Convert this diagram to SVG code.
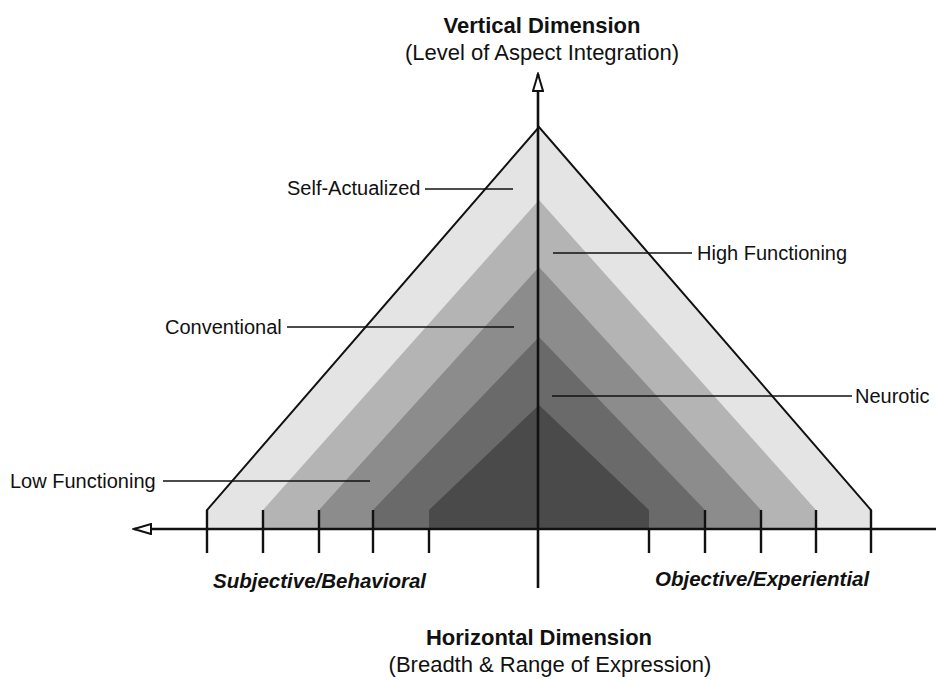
<svg xmlns="http://www.w3.org/2000/svg" width="936" height="681" viewBox="0 0 936 681">
<style>
text{font-family:"Liberation Sans",Arial,sans-serif;fill:#111}
.t{font-size:22px}
.tb{font-size:22px;font-weight:bold}
.lab{font-size:20px}
.bi{font-size:20.5px;font-weight:bold;font-style:italic}
.lead{stroke:#111;stroke-width:1.6;fill:none}
.tick{stroke:#111;stroke-width:2.4;fill:none}
.axis{stroke:#111;stroke-width:2.6;fill:none}
</style>
<defs>
<marker id="arr" viewBox="0 0 20 12" refX="18" refY="6" markerWidth="20" markerHeight="12" markerUnits="userSpaceOnUse" orient="auto">
<path d="M1,1 L18,6 L1,11 Z" fill="#fff" stroke="#111" stroke-width="2"/>
</marker>
</defs>
<rect width="936" height="681" fill="#fff"/>
<g id="layers">
<g id="self-actualized"><polygon points="207,529 207,510 539,127 871,510 871,529" fill="#e4e4e4" stroke="#111" stroke-width="2"/></g>
<g id="high-functioning"><polygon points="263,529 263,510 539,200 816,510 816,529" fill="#b4b4b4"/></g>
<g id="conventional"><polygon points="319,529 319,510 539,267 761,510 761,529" fill="#8c8c8c"/></g>
<g id="neurotic"><polygon points="373,529 373,510 539,337 705,510 705,529" fill="#6a6a6a"/></g>
<g id="low-functioning"><polygon points="429,529 429,510 539,405 649,510 649,529" fill="#4a4a4a"/></g>
</g>
<g id="connectors">
<line class="axis" x1="936" y1="529" x2="134" y2="529" marker-end="url(#arr)"/>
<line class="axis" x1="538" y1="588" x2="538" y2="74" marker-end="url(#arr)"/>
<line class="tick" x1="207" y1="510" x2="207" y2="553"/>
<line class="tick" x1="263" y1="510" x2="263" y2="553"/>
<line class="tick" x1="319" y1="510" x2="319" y2="553"/>
<line class="tick" x1="373" y1="510" x2="373" y2="553"/>
<line class="tick" x1="429" y1="529" x2="429" y2="553"/>
<line class="tick" x1="649" y1="529" x2="649" y2="553"/>
<line class="tick" x1="705" y1="510" x2="705" y2="553"/>
<line class="tick" x1="761" y1="510" x2="761" y2="553"/>
<line class="tick" x1="816" y1="510" x2="816" y2="553"/>
<line class="tick" x1="871" y1="510" x2="871" y2="553"/>
<line class="lead" x1="425" y1="189" x2="513" y2="189"/>
<line class="lead" x1="553" y1="253" x2="692" y2="253"/>
<line class="lead" x1="287" y1="327" x2="514" y2="327"/>
<line class="lead" x1="552" y1="396" x2="852" y2="396"/>
<line class="lead" x1="163" y1="481" x2="370" y2="481"/>
</g>
<g id="title-vertical">
<text class="tb" x="542" y="33" text-anchor="middle">Vertical Dimension</text>
<text class="t" x="542" y="60" text-anchor="middle">(Level of Aspect Integration)</text>
</g>
<g id="title-horizontal">
<text class="tb" x="539" y="645" text-anchor="middle">Horizontal Dimension</text>
<text class="t" x="550" y="672" text-anchor="middle">(Breadth &amp; Range of Expression)</text>
</g>
<g id="label-self-actualized"><text class="lab" x="287" y="195">Self-Actualized</text></g>
<g id="label-high-functioning"><text class="lab" x="697" y="260">High Functioning</text></g>
<g id="label-conventional"><text class="lab" x="165" y="334">Conventional</text></g>
<g id="label-neurotic"><text class="lab" x="855" y="403">Neurotic</text></g>
<g id="label-low-functioning"><text class="lab" x="10" y="488">Low Functioning</text></g>
<g id="label-subjective"><text class="bi" x="213" y="588">Subjective/Behavioral</text></g>
<g id="label-objective"><text class="bi" x="655" y="586">Objective/Experiential</text></g>
</svg>
